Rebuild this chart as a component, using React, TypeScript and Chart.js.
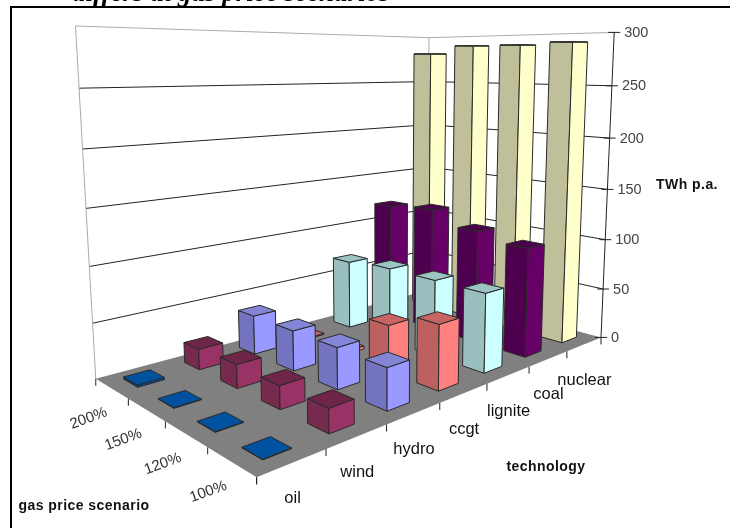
import React, { useEffect, useRef } from "react";
import { Chart, BarController, BarElement, CategoryScale, LinearScale } from "chart.js";

const technologies = ["oil", "wind", "hydro", "ccgt", "lignite", "coal", "nuclear"];
const scenarios = ["100%", "120%", "150%", "200%"];

// Annual output (TWh) per technology, one list for each gas price scenario.
const output100 = [0.5, 20, 36, 58, 73, 104, 291];
const output120 = [0.5, 20, 37, 43, 73, 111, 289];
const output150 = [0.5, 21, 37, 3, 73, 124, 289];
const output200 = [2, 19, 37, 1, 69, 120, 281];
const seriesByScenario = [output100, output120, output150, output200];

// Face colours per technology: [lit side, shaded side, top].
const faceColours = [
  ["#004C99", "#003A75", "#00519F"],
  ["#993366", "#752A4E", "#6E2548"],
  ["#9999FF", "#7373BF", "#8585D8"],
  ["#FF8080", "#BF6060", "#C96464"],
  ["#CCFFFF", "#99BFBF", "#9CC4C4"],
  ["#660066", "#4D004D", "#4A004A"],
  ["#FFFFCC", "#BFBF99", "#C4C49C"],
];

type Anchor = [number, number, number, number, number];
// Box corners of the plot (u along technology, v along scenario, h along value) and where they land.
const boxAnchors: Anchor[] = [
  [0, 0, 0, 257, 477],
  [1, 0, 0, 600, 338],
  [0, 1, 0, 95, 379],
  [1, 1, 0, 428, 290],
  [0, 1, 1, 76, 26],
  [1, 1, 1, 428, 38],
  [1, 0, 1, 615, 32],
];
const BAR_FRACTION = 0.42;

function solveLinear(A: number[][], b: number[]): number[] {
  const n = b.length;
  const M = A.map((r, i) => [...r, b[i]]);
  for (let c = 0; c < n; c++) {
    let p = c;
    for (let r = c + 1; r < n; r++) if (Math.abs(M[r][c]) > Math.abs(M[p][c])) p = r;
    [M[c], M[p]] = [M[p], M[c]];
    for (let r = 0; r < n; r++) {
      if (r === c) continue;
      const f = M[r][c] / M[c][c];
      for (let k = c; k <= n; k++) M[r][k] -= f * M[c][k];
    }
  }
  return M.map((r, i) => r[n] / r[i]);
}

// Least-squares camera matrix for the box anchors.
function fitCamera(anchors: Anchor[]): number[] {
  const rows: number[][] = [];
  const rhs: number[] = [];
  for (const [u, v, h, x, y] of anchors) {
    rows.push([u, v, h, 1, 0, 0, 0, 0, -x * u, -x * v, -x * h]);
    rhs.push(x);
    rows.push([0, 0, 0, 0, u, v, h, 1, -y * u, -y * v, -y * h]);
    rhs.push(y);
  }
  const N = 11;
  const AtA = Array.from({ length: N }, () => new Array(N).fill(0));
  const Atb = new Array(N).fill(0);
  rows.forEach((r, idx) => {
    for (let i = 0; i < N; i++) {
      Atb[i] += r[i] * rhs[idx];
      for (let j = 0; j < N; j++) AtA[i][j] += r[i] * r[j];
    }
  });
  return solveLinear(AtA, Atb);
}

const camera = fitCamera(boxAnchors);
const project = (u: number, v: number, h: number): [number, number] => {
  const c = camera;
  const w = c[8] * u + c[9] * v + c[10] * h + 1;
  return [(c[0] * u + c[1] * v + c[2] * h + c[3]) / w, (c[4] * u + c[5] * v + c[6] * h + c[7]) / w];
};

function fillFace(ctx: CanvasRenderingContext2D, pts: [number, number][], fill: string, stroke: string) {
  ctx.beginPath();
  pts.forEach(([x, y], i) => (i ? ctx.lineTo(x, y) : ctx.moveTo(x, y)));
  ctx.closePath();
  ctx.fillStyle = fill;
  ctx.fill();
  ctx.strokeStyle = stroke;
  ctx.lineWidth = 1;
  ctx.stroke();
}

function line(ctx: CanvasRenderingContext2D, a: [number, number], b: [number, number], colour: string, width = 1) {
  ctx.beginPath();
  ctx.moveTo(a[0], a[1]);
  ctx.lineTo(b[0], b[1]);
  ctx.strokeStyle = colour;
  ctx.lineWidth = width;
  ctx.stroke();
}

// Bar controller that extrudes every bar into a box in the projected plot space.
class Bar3DController extends BarController {
  static id = "bar3d";
  draw() {
    const chart = this.chart;
    const ctx = chart.ctx;
    const area = chart.chartArea;
    const xScale = chart.scales.x;
    const yScale = chart.scales.y;
    const bars = this.getMeta().data;
    const row = this.index;
    const du = (BAR_FRACTION * 0.5) / technologies.length;
    const dv = (BAR_FRACTION * 0.5) / scenarios.length;
    const v = (row + 0.5) / scenarios.length;
    for (let i = bars.length - 1; i >= 0; i--) {
      const value = this.getParsed(i).y;
      const u = (xScale.getPixelForValue(i) - area.left) / area.width;
      const h = (area.bottom - yScale.getPixelForValue(value)) / area.height;
      const [lit, shade, top] = faceColours[i];
      const edge = "#2a2a2a";
      const u0 = u - du, u1 = u + du, v0 = v - dv, v1 = v + dv;
      fillFace(ctx, [project(u0, v0, 0), project(u0, v1, 0), project(u0, v1, h), project(u0, v0, h)], shade, edge);
      fillFace(ctx, [project(u0, v0, 0), project(u1, v0, 0), project(u1, v0, h), project(u0, v0, h)], lit, edge);
      fillFace(ctx, [project(u0, v0, h), project(u1, v0, h), project(u1, v1, h), project(u0, v1, h)], top, edge);
    }
  }
}

// Walls, floor, ticks and every label of the box.
const boxPlugin = {
  id: "box3d",
  beforeDatasetsDraw(chart: any) {
    const { ctx, scales } = chart;
    const yScale = scales.y;
    const area = chart.chartArea;
    ctx.save();
    ctx.lineCap = "butt";

    // floor
    ctx.beginPath();
    [project(0, 0, 0), project(1, 0, 0), project(1, 1, 0), project(0, 1, 0)].forEach(([x, y], i) =>
      i ? ctx.lineTo(x, y) : ctx.moveTo(x, y)
    );
    ctx.closePath();
    ctx.fillStyle = "#808080";
    ctx.fill();

    // wall grid lines and value ticks
    ctx.font = "14.5px 'Liberation Sans'";
    ctx.fillStyle = "#444";
    ctx.textAlign = "left";
    ctx.textBaseline = "middle";
    for (const tick of yScale.ticks) {
      const h = (area.bottom - yScale.getPixelForValue(tick.value)) / area.height;
      const colour = h >= 0.999 ? "#aaaaaa" : "#222222";
      if (h > 0) {
        line(ctx, project(0, 1, h), project(1, 1, h), colour);
        line(ctx, project(1, 1, h), project(1, 0, h), colour);
      }
      const p = project(1, 0, h);
      line(ctx, [p[0] - 6, p[1]], [p[0] + 6, p[1]], "#222222");
      ctx.fillText(String(tick.value), p[0] + 10, p[1] + 0.5);
    }

    // wall edges
    line(ctx, project(0, 1, 0), project(0, 1, 1), "#a8a8a8");
    line(ctx, project(1, 1, 0), project(1, 1, 1), "#a8a8a8");
    line(ctx, project(1, 0, 0), project(1, 0, 1), "#222222");

    // floor ticks
    for (let i = 0; i <= technologies.length; i++) {
      const p = project(i / technologies.length, 0, 0);
      line(ctx, p, [p[0], p[1] + 7], "#222222");
    }
    for (let j = 0; j <= scenarios.length; j++) {
      const p = project(0, j / scenarios.length, 0);
      line(ctx, p, [p[0], p[1] + 7], "#222222");
    }

    // technology labels
    ctx.font = "16.5px 'Liberation Sans'";
    ctx.fillStyle = "#111";
    ctx.textAlign = "center";
    technologies.forEach((label, i) => {
      const p = project((i + 0.5) / technologies.length, 0, 0);
      ctx.fillText(label, p[0], p[1] + 36);
    });

    // scenario labels, tilted along the floor edge
    ctx.font = "15px 'Liberation Sans'";
    ctx.fillStyle = "#333";
    scenarios.forEach((label, j) => {
      const p = project(0, (j + 0.5) / scenarios.length, 0);
      ctx.save();
      ctx.translate(p[0] - 23, p[1] + 30);
      ctx.rotate((-20 * Math.PI) / 180);
      ctx.fillText(label, 0, 0);
      ctx.restore();
    });

    // axis titles
    ctx.font = "bold 14px 'Liberation Sans'";
    ctx.letterSpacing = "0.45px";
    ctx.fillStyle = "#111";
    ctx.fillText("TWh p.a.", 687, 185);
    ctx.fillText("technology", 546, 467);
    ctx.fillText("gas price scenario", 84, 506);
    ctx.letterSpacing = "0px";

    // title running off the top edge, above the frame
    ctx.font = "italic bold 27px 'Liberation Serif'";
    ctx.fillStyle = "#000";
    ctx.textAlign = "left";
    ctx.textBaseline = "alphabetic";
    ctx.fillText("differs at gas price scenarios", 72, 1);

    // surrounding frame
    ctx.fillRect(10, 6, 720, 2);
    ctx.fillRect(10, 6, 2, 522);
    ctx.restore();
  },
};

Chart.register(Bar3DController, BarElement, CategoryScale, LinearScale);

export default function App() {
  const ref = useRef<HTMLCanvasElement>(null);
  useEffect(() => {
    const chart = new Chart(ref.current!, {
      type: "bar3d" as any,
      data: {
        labels: technologies,
        datasets: scenarios.map((label, j) => ({ label, data: seriesByScenario[j] })),
      },
      options: {
        responsive: false,
        animation: false,
        layout: { padding: 0 },
        scales: {
          x: { type: "category", display: false },
          y: { type: "linear", display: false, min: 0, max: 300, ticks: { stepSize: 50 } },
        },
      },
      plugins: [boxPlugin],
    } as any);
    return () => chart.destroy();
  }, []);
  return (
    <div style={{ position: "fixed", left: 0, top: 0, width: 730, height: 528, background: "#fff" }}>
      <canvas ref={ref} width={730} height={528} style={{ display: "block" }} />
    </div>
  );
}
